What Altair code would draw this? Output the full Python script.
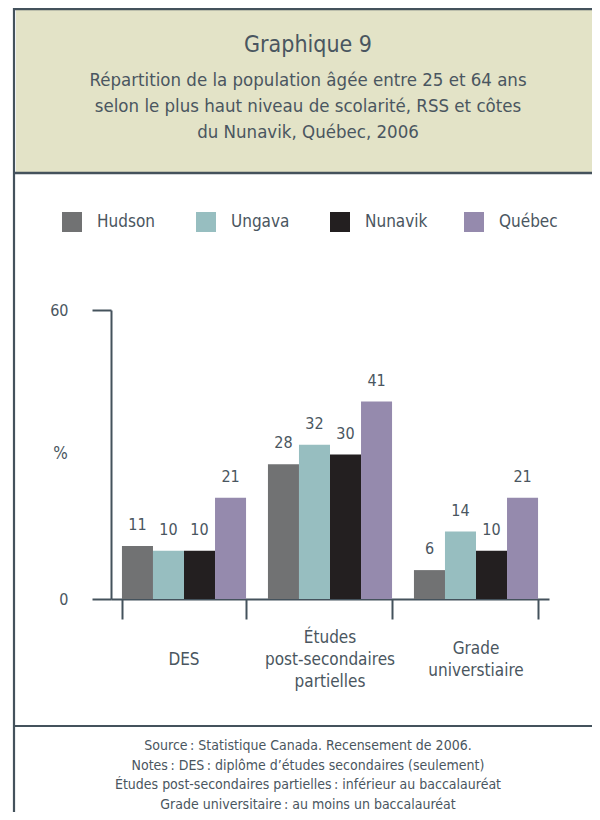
import altair as alt
import pandas as pd

# ---- data ----
categories = ["DES", "Études post-secondaires partielles", "Grade universtiaire"]
category_lines = [["DES"], ["Études", "post-secondaires", "partielles"], ["Grade", "universtiaire"]]
series = ["Hudson", "Ungava", "Nunavik", "Québec"]
hudson = [11, 28, 6]
ungava = [10, 32, 14]
nunavik = [10, 30, 10]
quebec = [21, 41, 21]
colors = ["#717273", "#97bec0", "#231f20", "#958aad"]
y_ticks = [0, 60]

title_text = "Graphique 9"
subtitle_lines = [
    "Répartition de la population âgée entre 25 et 64 ans",
    "selon le plus haut niveau de scolarité, RSS et côtes",
    "du Nunavik, Québec, 2006",
]
footer_lines = [
    "Source\u202f: Statistique Canada. Recensement de 2006.",
    "Notes\u202f: DES\u202f: diplôme d’études secondaires (seulement)",
    "Études post-secondaires partielles\u202f: inférieur au baccalauréat",
    "Grade universitaire\u202f: au moins un baccalauréat",
]

rows = []
for s, vals in zip(series, [hudson, ungava, nunavik, quebec]):
    for c, v in zip(categories, vals):
        rows.append({"cat": c, "serie": s, "val": v})
df = pd.DataFrame(rows)

# one row per label line, k = line index relative to the centre of its block
line_rows = []
for c, lines in zip(categories, category_lines):
    n = len(lines)
    for i, t in enumerate(lines):
        line_rows.append({"cat": c, "line": t, "k": i - (n - 1) / 2})
df_lines = pd.DataFrame(line_rows)
dummy = pd.DataFrame({"k": [0]})

FONT = "DejaVu Sans Condensed, Liberation Sans Narrow, sans-serif"
TXT = "#4a5660"
LINE = "#44525c"
HEAD = "#e3e3c7"

W, H = 438, 289
PAD_L, PAD_T = 103, 302
PAD_R = 584 - PAD_L - W
PAD_B = 804 - PAD_T - H
LABEL_C = 660 - 310   # centre of category labels below plot top
LABEL_LH = 22

x_enc = alt.X(
    "cat:N",
    sort=categories,
    scale=alt.Scale(paddingInner=0.15, paddingOuter=0.075),
    axis=alt.Axis(
        title=None, tickBand="extent", tickSize=20, tickWidth=2, tickColor=LINE,
        domainColor=LINE, domainWidth=2, labels=False, grid=False,
    ),
)
y_enc = alt.Y(
    "val:Q",
    scale=alt.Scale(domain=[0, 60], nice=False),
    axis=alt.Axis(
        values=y_ticks, title="%", titleAngle=0, titleX=-51, titleY=143,
        titleAlign="center", titleBaseline="middle", titleFont=FONT,
        titleFontSize=17, titleFontWeight="normal", titleColor=TXT,
        tickSize=19, tickWidth=2, tickColor=LINE, domainColor=LINE,
        domainWidth=2, labelFont=FONT, labelFontSize=16, labelColor=TXT,
        labelPadding=24, grid=False,
    ),
)
color_enc = alt.Color(
    "serie:N",
    sort=series,
    scale=alt.Scale(domain=series, range=colors),
    legend=alt.Legend(
        orient="none", legendX=-49, legendY=-98, direction="horizontal",
        columns=4, gridAlign="all", symbolType="square", symbolSize=400,
        symbolStrokeWidth=0, labelFont=FONT, labelFontSize=17, labelColor=TXT,
        labelOffset=15, columnPadding=36, padding=0, title=None,
    ),
)

bars = alt.Chart(df).mark_bar().encode(
    x=x_enc, y=y_enc, xOffset=alt.XOffset("serie:N", sort=series), color=color_enc
)
labels = alt.Chart(df).mark_text(
    baseline="middle", dy=-21, font=FONT, fontSize=16, color=TXT
).encode(
    x=x_enc,
    xOffset=alt.XOffset("serie:N", sort=series),
    y=y_enc,
    text="val:Q",
)
main = alt.layer(bars, labels)

cat_labels = alt.Chart(df_lines).mark_text(
    baseline="middle", align="center", font=FONT, fontSize=17, color=TXT
).encode(
    x=x_enc,
    y=alt.Y("k:Q", scale=alt.Scale(domain=[-1, 1],
                                   range=[LABEL_C - LABEL_LH, LABEL_C + LABEL_LH]),
            axis=None),
    text="line:N",
)

base = alt.Chart(dummy)
header = base.mark_rect(color=HEAD).encode(
    x=alt.value(-PAD_L + 8), x2=alt.value(W + PAD_R),
    y=alt.value(-PAD_T), y2=alt.value(173 - 8 - PAD_T),
)
left_border = base.mark_rule(color=LINE, strokeWidth=2.2).encode(
    x=alt.value(14 - 8 - PAD_L), y=alt.value(-PAD_T), y2=alt.value(H + PAD_B)
)
top_border = base.mark_rule(color=LINE, strokeWidth=2.5).encode(
    x=alt.value(14 - 8 - PAD_L), x2=alt.value(W + PAD_R), y=alt.value(-PAD_T + 1)
)
head_line = base.mark_rule(color=LINE, strokeWidth=2.5).encode(
    x=alt.value(14 - 8 - PAD_L), x2=alt.value(W + PAD_R), y=alt.value(173 - 8 - PAD_T)
)
foot_line = base.mark_rule(color=LINE, strokeWidth=2.2).encode(
    x=alt.value(14 - 8 - PAD_L), x2=alt.value(W + PAD_R), y=alt.value(726 - 8 - PAD_T)
)
CX = 308 - 8 - PAD_L
title = base.mark_text(
    text=title_text, font=FONT, fontSize=23, color=TXT, align="center", baseline="alphabetic"
).encode(x=alt.value(CX), y=alt.value(52 - 8 - PAD_T))
subtitle = base.mark_text(
    text=subtitle_lines, font=FONT, fontSize=18.5, lineHeight=26, color=TXT,
    align="center", baseline="alphabetic",
).encode(x=alt.value(CX), y=alt.value(86 - 8 - PAD_T))
footer = base.mark_text(
    text=footer_lines, font=FONT, fontSize=14, lineHeight=19.5, color=TXT,
    align="center", baseline="alphabetic",
).encode(x=alt.value(CX), y=alt.value(750 - 8 - PAD_T))

chart = alt.layer(
    header, top_border, head_line, left_border, foot_line, title, subtitle, footer,
    main, cat_labels,
).resolve_scale(y="independent").properties(
    width=W, height=H,
    autosize=alt.AutoSizeParams(type="none"),
    padding={"left": PAD_L, "top": PAD_T, "right": PAD_R, "bottom": PAD_B},
    background="white",
).configure_view(stroke=None)

chart.save("out.html", embed_options={"renderer": "svg", "actions": False})
